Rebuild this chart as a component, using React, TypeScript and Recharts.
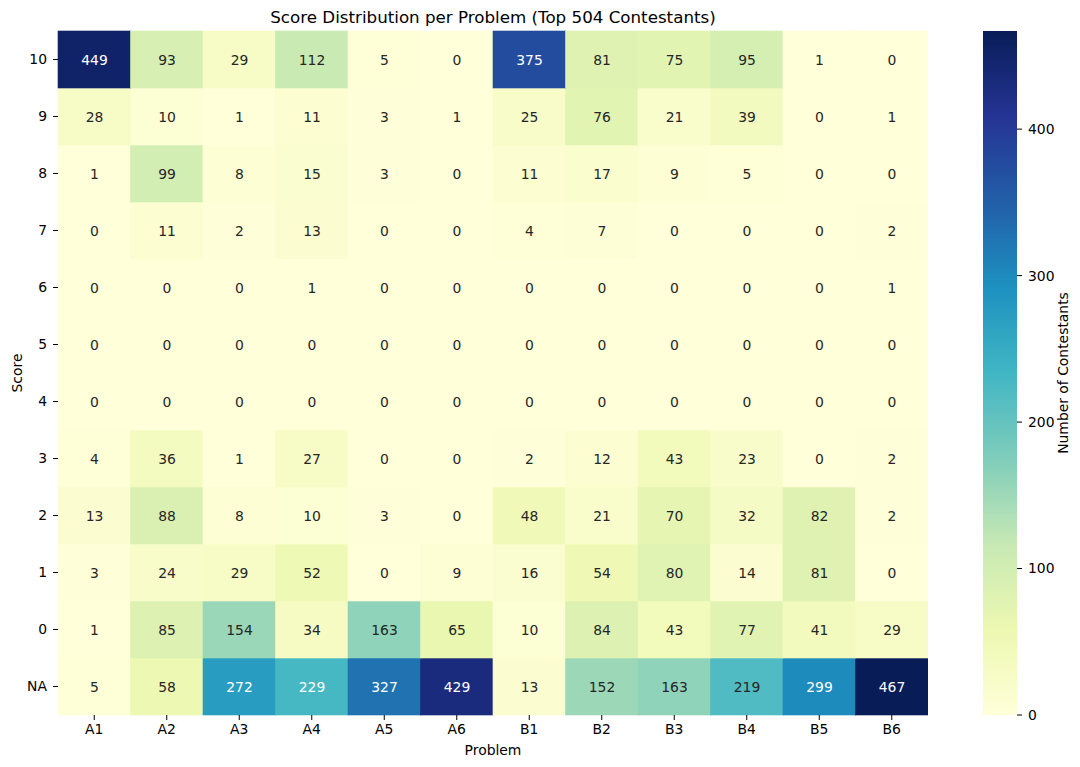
import React from 'react';
import { BarChart, Bar, XAxis, YAxis } from 'recharts';

const problems = ['A1', 'A2', 'A3', 'A4', 'A5', 'A6', 'B1', 'B2', 'B3', 'B4', 'B5', 'B6'];
// score labels from bottom to top
const scoreLabels = ['NA', '0', '1', '2', '3', '4', '5', '6', '7', '8', '9', '10'];

const scoreNA = [5, 58, 272, 229, 327, 429, 13, 152, 163, 219, 299, 467];
const score0 = [1, 85, 154, 34, 163, 65, 10, 84, 43, 77, 41, 29];
const score1 = [3, 24, 29, 52, 0, 9, 16, 54, 80, 14, 81, 0];
const score2 = [13, 88, 8, 10, 3, 0, 48, 21, 70, 32, 82, 2];
const score3 = [4, 36, 1, 27, 0, 0, 2, 12, 43, 23, 0, 2];
const score4 = [0, 0, 0, 0, 0, 0, 0, 0, 0, 0, 0, 0];
const score5 = [0, 0, 0, 0, 0, 0, 0, 0, 0, 0, 0, 0];
const score6 = [0, 0, 0, 1, 0, 0, 0, 0, 0, 0, 0, 1];
const score7 = [0, 11, 2, 13, 0, 0, 4, 7, 0, 0, 0, 2];
const score8 = [1, 99, 8, 15, 3, 0, 11, 17, 9, 5, 0, 0];
const score9 = [28, 10, 1, 11, 3, 1, 25, 76, 21, 39, 0, 1];
const score10 = [449, 93, 29, 112, 5, 0, 375, 81, 75, 95, 1, 0];

const rows = [scoreNA, score0, score1, score2, score3, score4, score5, score6, score7, score8, score9, score10];
const colorbarTicks = [0, 100, 200, 300, 400];

const vmax = Math.max(...rows.flat());
const vmin = 0;

const YLGNBU = ['#ffffd9', '#edf8b1', '#c7e9b4', '#7fcdbb', '#41b6c4', '#1d91c0', '#225ea8', '#253494', '#081d58'];

const hexToRgb = (h: string) => [parseInt(h.slice(1, 3), 16), parseInt(h.slice(3, 5), 16), parseInt(h.slice(5, 7), 16)];

function cmap(v: number): number[] {
  let t = (v - vmin) / (vmax - vmin);
  t = Math.max(0, Math.min(1, t));
  const idx = Math.min(255, Math.floor(t * 256));
  const tq = idx / 255;
  const pos = tq * (YLGNBU.length - 1);
  const i = Math.min(YLGNBU.length - 2, Math.floor(pos));
  const f = pos - i;
  const a = hexToRgb(YLGNBU[i]);
  const b = hexToRgb(YLGNBU[i + 1]);
  return [0, 1, 2].map((k) => a[k] + (b[k] - a[k]) * f);
}

const rgbStr = (c: number[]) => `rgb(${Math.round(c[0])},${Math.round(c[1])},${Math.round(c[2])})`;

function luminance(c: number[]) {
  const lin = c.map((x) => {
    const s = x / 255;
    return s <= 0.03928 ? s / 12.92 : Math.pow((s + 0.055) / 1.055, 2.4);
  });
  return 0.2126 * lin[0] + 0.7152 * lin[1] + 0.0722 * lin[2];
}

const tableData = problems.map((p, j) => {
  const row: Record<string, any> = { problem: p };
  rows.forEach((r, i) => {
    row[`r${i}`] = 1;
    row[`c${i}`] = r[j];
  });
  return row;
});

const FONT = 'DejaVu Sans, sans-serif';

const makeShape = (rowIdx: number) => (props: any) => {
  const { x, y, width, height, payload } = props;
  const count = payload[`c${rowIdx}`];
  const col = cmap(count);
  const fill = rgbStr(col);
  const textColor = luminance(col) > 0.408 ? '#262626' : '#ffffff';
  return (
    <g>
      <rect x={x} y={y} width={width} height={height} fill={fill} stroke={fill} strokeWidth={0.6} />
      <text
        x={x + width / 2}
        y={y + height / 2}
        textAnchor="middle"
        dominantBaseline="central"
        fontFamily={FONT}
        fontSize={13.9}
        fill={textColor}
      >
        {count}
      </text>
    </g>
  );
};

const yTicks = scoreLabels.map((_, i) => i + 0.5);

// top of the colorbar (0%) is vmax (dark), bottom (100%) is vmin (light)
const gradStops = YLGNBU.map((_, i) => ({
  offset: (i / (YLGNBU.length - 1)) * 100,
  color: YLGNBU[YLGNBU.length - 1 - i],
}));

export default function App() {
  return (
    <div style={{ position: 'fixed', left: 0, top: 0, width: 1080, height: 767, background: '#fff' }}>
      <div
        style={{
          position: 'absolute',
          left: 58,
          width: 870,
          top: 7,
          textAlign: 'center',
          fontFamily: FONT,
          fontSize: 16.7,
          color: '#000',
        }}
      >
        Score Distribution per Problem (Top 504 Contestants)
      </div>
      <div style={{ position: 'absolute', left: 0, top: 0 }}>
        <BarChart
          width={928}
          height={767}
          data={tableData}
          margin={{ top: 31, right: 0, bottom: 0, left: 0 }}
          barCategoryGap={0}
          barGap={0}
        >
          <XAxis
            dataKey="problem"
            height={52}
            axisLine={false}
            tickLine={{ stroke: '#000' }}
            tickSize={5}
            tickMargin={4}
            tick={{ fontFamily: FONT, fontSize: 13.9, fill: '#000' }}
            interval={0}
            label={{
              value: 'Problem',
              position: 'insideBottom',
              offset: 12,
              style: { fontFamily: FONT, fontSize: 13.9, fill: '#000' },
            }}
          />
          <YAxis
            type="number"
            domain={[0, 12]}
            ticks={yTicks}
            tickFormatter={(v: number) => scoreLabels[Math.floor(v)]}
            width={58}
            axisLine={false}
            tickLine={{ stroke: '#000' }}
            tickSize={5}
            tickMargin={6}
            interval={0}
            tick={{ fontFamily: FONT, fontSize: 13.9, fill: '#000' }}
            label={{
              value: 'Score',
              content: (p: any) => {
                const vb = p.viewBox;
                const cx = vb.x + 17;
                const cy = vb.y + vb.height / 2;
                return (
                  <text
                    x={cx}
                    y={cy}
                    transform={`rotate(-90 ${cx} ${cy})`}
                    textAnchor="middle"
                    dominantBaseline="central"
                    fontFamily={FONT}
                    fontSize={13.9}
                    fill="#000"
                  >
                    Score
                  </text>
                );
              },
            }}
          />
          {rows.map((_, i) => (
            <Bar key={i} dataKey={`r${i}`} stackId="a" isAnimationActive={false} shape={makeShape(i)} />
          ))}
        </BarChart>
      </div>
      <div style={{ position: 'absolute', left: 983, top: 0 }}>
        <BarChart
          width={97}
          height={767}
          data={[{ name: 'cb', v: vmax }]}
          margin={{ top: 31, right: 0, bottom: 52, left: 0 }}
          barCategoryGap={0}
        >
          <defs>
            <linearGradient id="cbGrad" x1="0" y1="0" x2="0" y2="1">
              {gradStops.map((s, i) => (
                <stop key={i} offset={`${s.offset}%`} stopColor={s.color} />
              ))}
            </linearGradient>
          </defs>
          <XAxis dataKey="name" hide />
          <YAxis
            orientation="right"
            type="number"
            domain={[0, vmax]}
            ticks={colorbarTicks}
            width={63}
            axisLine={false}
            tickLine={{ stroke: '#000' }}
            tickSize={5}
            tickMargin={6}
            interval={0}
            tick={{ fontFamily: FONT, fontSize: 13.9, fill: '#000' }}
            label={{
              value: 'Number of Contestants',
              content: (p: any) => {
                const vb = p.viewBox;
                const cx = vb.x + vb.width - 17;
                const cy = vb.y + vb.height / 2;
                return (
                  <text
                    x={cx}
                    y={cy}
                    transform={`rotate(-90 ${cx} ${cy})`}
                    textAnchor="middle"
                    dominantBaseline="central"
                    fontFamily={FONT}
                    fontSize={13.9}
                    fill="#000"
                  >
                    Number of Contestants
                  </text>
                );
              },
            }}
          />
          <Bar dataKey="v" fill="url(#cbGrad)" isAnimationActive={false} />
        </BarChart>
      </div>
    </div>
  );
}
